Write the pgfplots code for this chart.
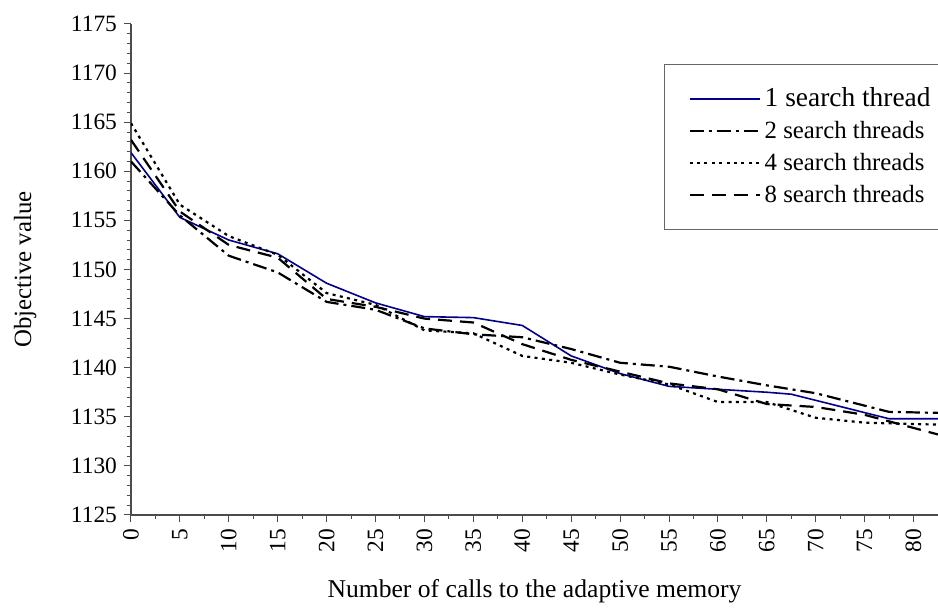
\documentclass[border=0pt]{standalone}
\usepackage{pgfplots}
\pgfplotsset{compat=1.18}
\usepackage{fontspec}
\setmainfont{Liberation Serif}
\definecolor{navyline}{RGB}{0,0,140}
\begin{document}
\begin{tikzpicture}
\useasboundingbox (-65.5pt,-46.5pt) rectangle (403.5pt,257.5pt);
\begin{axis}[
  scale only axis,
  width=403.5pt, height=245.5pt,
  xmin=0, xmax=82.5, ymin=1125, ymax=1175,
  axis lines*=left,
  axis line style={-, black!70, line width=0.6pt},
  xtick={0,5,...,80}, minor x tick num=1,
  ytick={1125,1130,...,1175}, minor y tick num=4,
  tick align=outside,
  major tick length=3.5pt, minor tick length=2pt,
  tick style={black!70, line width=0.5pt},
  /pgf/number format/assume math mode=true,
  /pgf/number format/1000 sep={},
  ticklabel style={font=\fontsize{11.7}{13}\selectfont},
  xticklabel style={rotate=90, anchor=east},
  xlabel={Number of calls to the adaptive memory},
  ylabel={Objective value},
  every axis x label/.style={at={(axis description cs:0.5,-0.155)}, anchor=center, font=\fontsize{12.8}{15}\selectfont},
  every axis y label/.style={at={(axis description cs:-0.131,0.5)}, rotate=90, anchor=center, font=\fontsize{12.4}{15}\selectfont},
  legend style={at={(axis description cs:0.6605,0.9185)}, anchor=north west,
    draw=black!60, line width=0.5pt, inner xsep=12pt, inner ysep=10pt, row sep=1.5pt,
    column sep=0pt,
    font=\fontsize{12.4}{14}\selectfont,
    cells={anchor=west, inner xsep=1pt, inner ysep=1pt, text height=9pt, text depth=3pt}},
  legend image code/.code={\draw[#1] (0pt,0pt) -- (35pt,0pt);},
]
\addplot[navyline, line width=0.8pt] coordinates {
(0,1161.9) (5,1155.3) (10,1153.0) (15,1151.6) (20,1148.6) (25,1146.6) (30,1145.2) (35,1145.1) (40,1144.3) (45,1141.2) (50,1139.4) (55,1138.1) (60,1137.8) (65,1137.5) (67.5,1137.3) (77.5,1134.8) (82.5,1134.8)};
\addlegendentry{\fontsize{13.7}{15}\selectfont\rule{0pt}{16pt}1 search thread\hspace{-9pt}}
\addplot[black, line width=1.1pt, dash pattern=on 7pt off 2.5pt on 1.5pt off 2.5pt] coordinates {
(0,1161.0) (5,1155.5) (10,1151.4) (15,1149.7) (20,1146.7) (25,1145.9) (30,1144.0) (35,1143.4) (40,1143.1) (45,1141.9) (50,1140.5) (55,1140.1) (60,1139.1) (65,1138.2) (70,1137.4) (77.5,1135.5) (82.5,1135.4)};
\addlegendentry{2 search threads\hspace{-9pt}}
\addplot[black, line width=1.1pt, dash pattern=on 1.5pt off 2.2pt] coordinates {
(0,1164.9) (5,1156.6) (10,1153.4) (15,1151.5) (20,1147.6) (25,1146.4) (30,1143.8) (35,1143.5) (40,1141.2) (45,1140.5) (50,1139.3) (55,1138.3) (60,1136.5) (65,1136.5) (70,1134.9) (75,1134.4) (82.5,1134.2)};
\addlegendentry{4 search threads\hspace{-9pt}}
\addplot[black, line width=1.1pt, dash pattern=on 7pt off 4pt] coordinates {
(0,1163.2) (5,1155.9) (10,1152.5) (15,1151.2) (20,1147.0) (25,1146.2) (30,1145.0) (35,1144.6) (40,1142.4) (45,1140.8) (50,1139.6) (55,1138.4) (60,1137.8) (65,1136.3) (70,1136.0) (75,1135.2) (82.5,1133.2)};
\addlegendentry{8 search threads\hspace{-9pt}}
\end{axis}
\end{tikzpicture}
\end{document}
